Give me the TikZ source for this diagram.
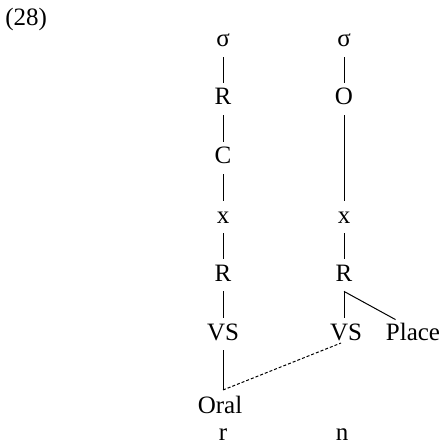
\documentclass[tikz,border=0pt]{standalone}
\usepackage{fontspec}
\setmainfont{Liberation Serif}
\usetikzlibrary{positioning, calc}

\tikzset{
	seg/.style = {anchor=base, inner sep=2pt, text height=9pt, text depth=3pt},
	assoc/.style = {line width=0.5pt},
	delink/.style = {line width=0.5pt, dash pattern=on 1.5pt off 1pt}
}

\begin{document}
\begin{tikzpicture}[x=0.5pt, y=-0.5pt, font=\fontsize{12.5}{15}\selectfont]
				\useasboundingbox (0,0) rectangle (443,448);
				\node[anchor=base west, inner sep=0pt] (num) at (5,26) {(28)};
				
				\begin{scope}[shift = {(223, 0)}]
					\node[seg] (sa) at (0,47) {σ};
					\node[seg] (ra) at (0,105) {R};
					\node[seg] (ca) at (0,164) {C};
					\node[seg] (xa) at (0,223) {x};
					\node[seg] (rb) at (0,281) {R};
					\node[seg] (va) at (0,340) {VS};
					\node[seg] (oral) at (-3,413) {Oral};
					\node[seg] (ra-seg) at (0,440) {r};
					\coordinate (corner) at (0,390);
					\draw [assoc] (sa) -- (ra);
					\draw [assoc] (ra) -- (ca);
					\draw [assoc] (ca) -- (xa);
					\draw [assoc] (xa) -- (rb);
					\draw [assoc] (rb) -- (va);
					\draw [assoc] (va.south) -- (corner);
				\end{scope}
				
				\begin{scope}[shift = {(344, 0)}]
					\node[seg] (sb) at (0,47) {σ};
					\node[seg] (ob) at (0,105) {O};
					\node[seg] (xb) at (0,223) {x};
					\node[seg] (rc) at (0,281) {R};
					\node[seg] (vb) at (2,340) {VS};
					\node[seg] (place) at (69,340) {Place};
					\node[seg] (nb-seg) at (-2,440) {n};
					\draw [assoc] (sb) -- (ob);
					\draw [assoc] (ob) -- (xb);
					\draw [assoc] (xb) -- (rc);
					\draw [assoc] (rc.south) -- (rc.south |- vb.north);
					\draw [assoc] (rc.south) -- ([xshift=7pt, yshift=-1pt]place.north west);
				\end{scope}
				
				\draw [delink] (corner) -- ([xshift=-2.5pt, yshift=-1.5pt]vb.base);
			\end{tikzpicture}
\end{document}
